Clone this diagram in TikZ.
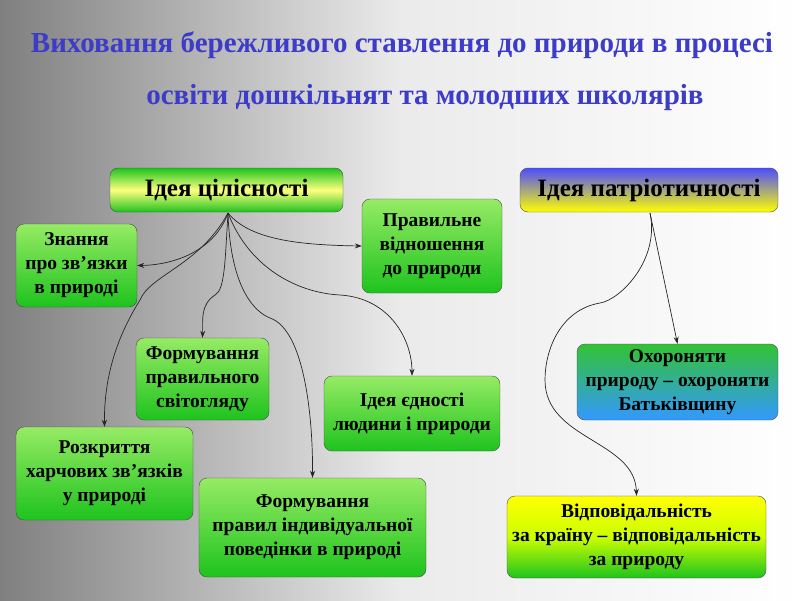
\documentclass[tikz,border=0pt]{standalone}
\usepackage{fontspec}
\setmainfont{Liberation Serif}
\usetikzlibrary{arrows.meta}
\definecolor{ttl}{RGB}{60,60,200}
\definecolor{gtop}{RGB}{150,235,100}
\definecolor{gbot}{RGB}{30,195,30}
\begin{document}
\begin{tikzpicture}[x=1pt,y=-1pt,
 box/.style={draw=black!70,rounded corners=8pt,align=center,font=\bfseries\fontsize{19.5}{24}\selectfont,inner sep=0pt,top color=gtop,bottom color=gbot},
 arr/.style={-{Stealth[length=7pt,width=5pt]},black!85,line width=0.7pt}]
\shade[left color=black!50,right color=white,middle color=black!8] (0,0) rectangle (800,600);
\useasboundingbox (0,0) rectangle (800,600);
\node[font=\bfseries\fontsize{29}{32}\selectfont,text=ttl] (t1) at (402,45) {Виховання бережливого ставлення до природи в процесі};
\node[font=\bfseries\fontsize{29}{32}\selectfont,text=ttl] (t2) at (425,98) {освіти дошкільнят та молодших школярів};
\node[box,minimum width=233pt,minimum height=44pt,top color=gbot,bottom color=gbot,middle color=yellow!50!white,font=\bfseries\fontsize{25}{28}\selectfont] (c) at (226.5,190) {Ідея цілісності};
\node[box,minimum width=258pt,minimum height=44pt,top color=blue!70,middle color=yellow,bottom color=yellow,font=\bfseries\fontsize{25}{28}\selectfont] (p) at (649,190) {Ідея патріотичності};
\node[box,minimum width=121pt,minimum height=83pt] (z) at (76.5,265.5) {Знання\\про зв’язки\\в природі};
\node[box,minimum width=140pt,minimum height=94pt] (pr) at (432,246) {Правильне\\відношення\\до природи};
\node[box,minimum width=133pt,minimum height=82pt] (f1) at (202.5,379) {Формування\\правильного\\світогляду};
\node[box,minimum width=176pt,minimum height=75pt] (e) at (412,413.5) {Ідея єдності\\людини і природи};
\node[box,minimum width=177pt,minimum height=93pt] (r) at (104.5,473.5) {Розкриття\\харчових зв’язків\\у природі};
\node[box,minimum width=227pt,minimum height=99pt] (f2) at (312.5,527.5) {Формування\\правил індивідуальної\\поведінки в природі};
\node[box,minimum width=201pt,minimum height=76pt,top color=green!70!black!80,bottom color=blue!50!cyan!80] (o) at (677.5,382) {Охороняти\\природу – охороняти\\Батьківщину};
\node[box,minimum width=259pt,minimum height=82pt,top color=yellow,bottom color=gbot,middle color=yellow!80!green] (v) at (636.5,537) {Відповідальність\\за країну – відповідальність\\за природу};
\coordinate (cs) at (228,213);
\coordinate (ps) at (650,213);
\draw[arr] (cs) .. controls (215,250) and (175,265) .. (z.east);
\draw[arr] (cs) .. controls (250,240) and (300,245) .. (pr.west);
\draw[arr] (cs) .. controls (225,260) and (225,290) .. (215,295) .. controls (200,305) and (203,320) .. (f1.north);
\draw[arr] (cs) .. controls (200,265) and (150,275) .. (140,300) .. controls (115,340) and (104,380) .. (r.north);
\draw[arr] (cs) .. controls (230,280) and (250,310) .. (270,318) .. controls (305,330) and (313,420) .. (f2.north);
\draw[arr] (cs) .. controls (250,270) and (300,293) .. (340,295) .. controls (390,298) and (412,340) .. (e.north);
\draw[arr] (ps) -- (o.north);
\draw[arr] (ps) .. controls (660,260) and (620,300) .. (600,303) .. controls (560,310) and (545,350) .. (545,380) .. controls (545,440) and (635,440) .. (v.north);
\end{tikzpicture}
\end{document}
